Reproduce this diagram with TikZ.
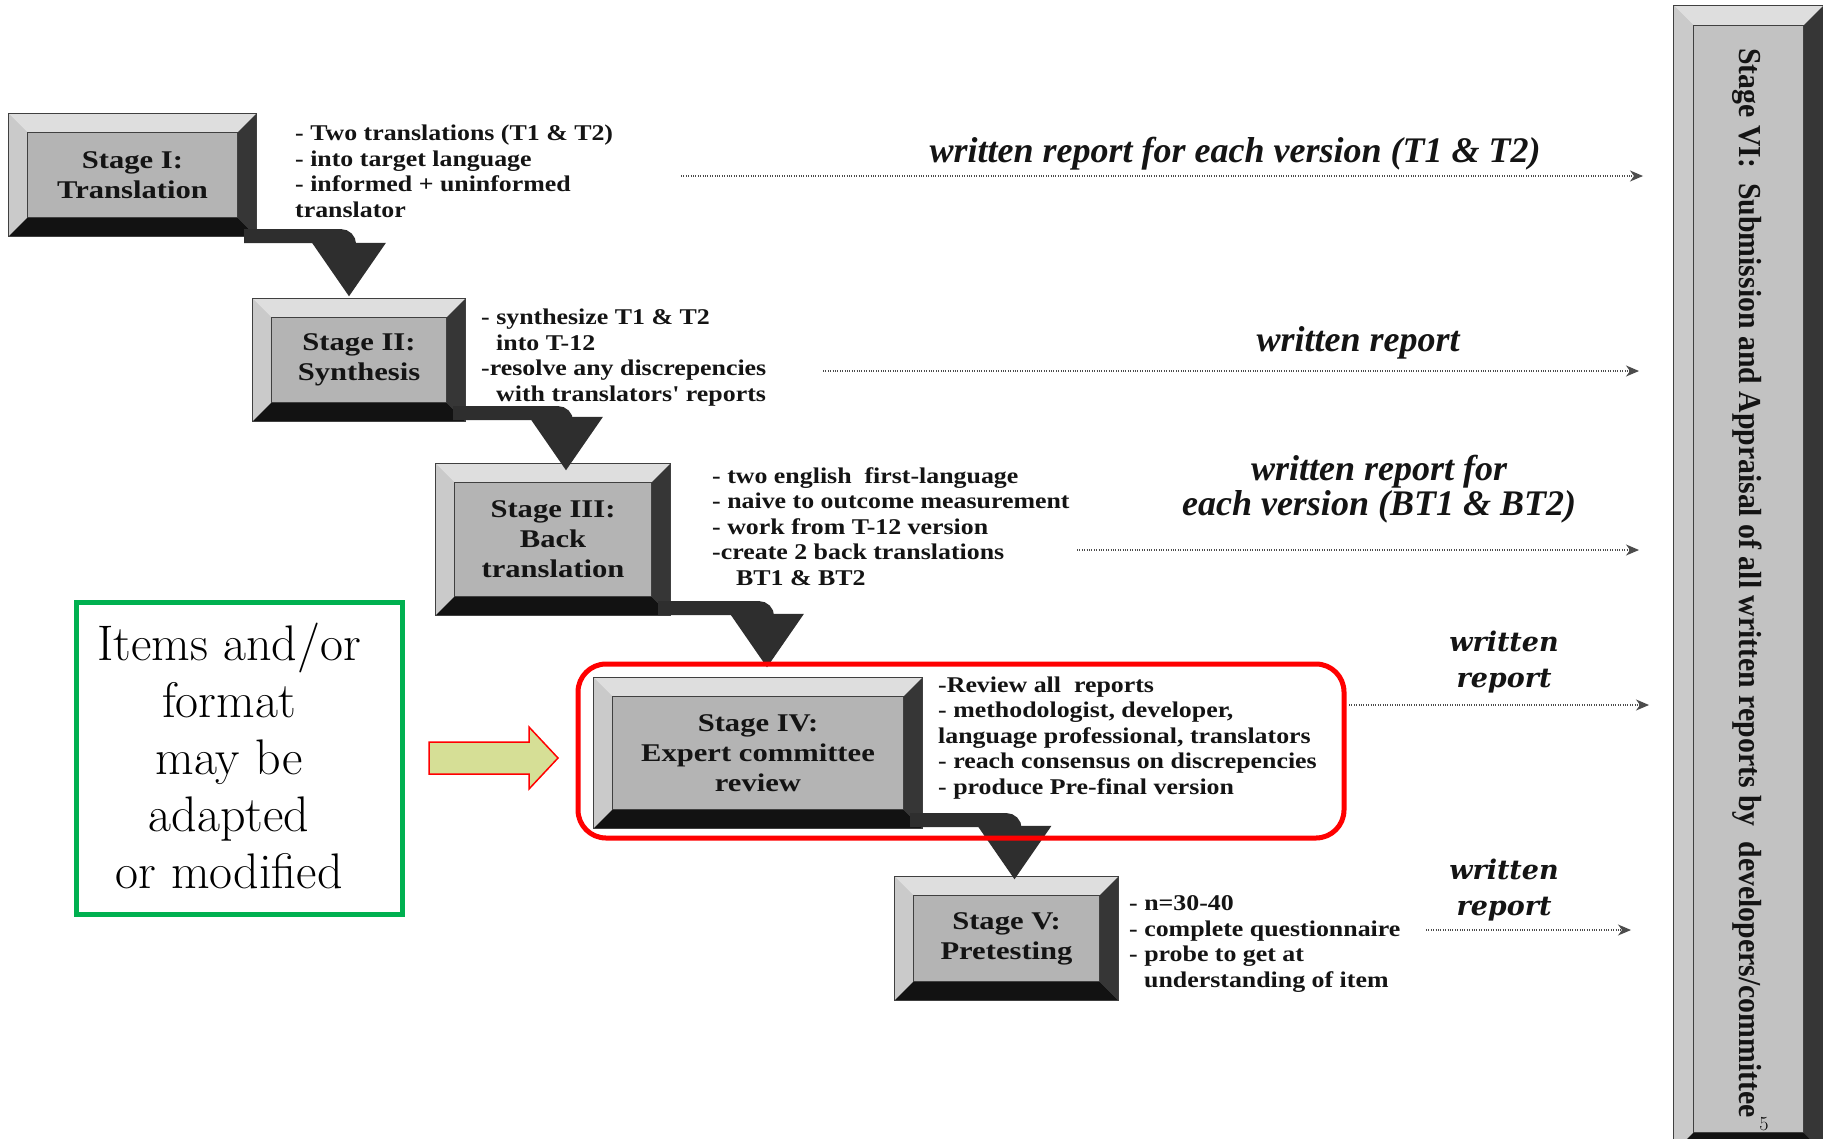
\documentclass[tikz,border=0pt]{standalone}
\usepackage{fontspec}
\usetikzlibrary{arrows.meta}
\newfontfamily\stgfont[FakeStretch=1.2]{Liberation Serif}
\newfontfamily\dscfont[FakeStretch=1.15]{Liberation Serif}
\newfontfamily\lblfont{Liberation Serif}
\newfontfamily\lblbfont{DejaVu Serif}
\newfontfamily\sixfont[FakeStretch=0.93]{Liberation Serif}
\definecolor{face}{HTML}{B4B4B4}
\definecolor{facesix}{HTML}{C2C2C2}
\definecolor{bvtopc}{HTML}{DEDEDE}
\definecolor{bvleftc}{HTML}{CACACA}
\definecolor{bvrightc}{HTML}{363636}
\definecolor{bvbotc}{HTML}{121212}
\definecolor{bandc}{HTML}{2E2E2E}
\definecolor{notegreen}{HTML}{00B050}
\definecolor{yfill}{HTML}{D6DF96}
\newcommand\bevelize[2][19]{%
 \fill[bvtopc] (#2.north west) -- (#2.north east) -- ([shift={(-#1,#1)}]#2.north east) -- ([shift={(#1,#1)}]#2.north west) -- cycle;
 \fill[bvleftc] (#2.north west) -- ([shift={(#1,#1)}]#2.north west) -- ([shift={(#1,-#1)}]#2.south west) -- (#2.south west) -- cycle;
 \fill[bvrightc] (#2.north east) -- ([shift={(-#1,#1)}]#2.north east) -- ([shift={(-#1,-#1)}]#2.south east) -- (#2.south east) -- cycle;
 \fill[bvbotc] (#2.south west) -- ([shift={(#1,-#1)}]#2.south west) -- ([shift={(-#1,-#1)}]#2.south east) -- (#2.south east) -- cycle;
 \draw[black!75, line width=0.8pt] ([shift={(#1,#1)}]#2.north west) rectangle ([shift={(-#1,-#1)}]#2.south east);
 \draw[black!75, line width=0.8pt] (#2.north west) rectangle (#2.south east);
}
\tikzset{
 stg/.style={inner sep=0pt, fill=face, align=center, text=black!92,
   font=\stgfont\bfseries\fontsize{25.5}{30}\selectfont},
 dsc/.style={anchor=west, inner sep=0pt, align=left, text=black!92,
   font=\dscfont\bfseries\fontsize{22.5}{25.5}\selectfont},
 lbl/.style={inner sep=0pt, align=center, text=black!92,
   font=\lblfont\bfseries\itshape\fontsize{36}{35}\selectfont},
 lblb/.style={inner sep=0pt, align=center, text=black!92,
   font=\lblbfont\bfseries\itshape\fontsize{27}{36}\selectfont},
 elbowconn/.style={draw=bandc, line width=14pt, rounded corners=8pt,
   -{Triangle[width=70pt,length=54pt]}},
 report/.style={draw=black!70, line width=1.3pt, dash pattern=on 1pt off 1.4pt,
   -{Stealth[length=13pt,width=11pt,inset=4pt]}},
}
\begin{document}
\begin{tikzpicture}[x=1pt,y=-1pt]
\clip (0,0) rectangle (1823,1138);
\fill[white] (0,0) rectangle (1823,1138);

% Stage boxes
\node[stg, minimum width=247pt, minimum height=122pt] (s1) at (132.5,175) {Stage I:\\Translation};
\bevelize{s1}
\node[stg, minimum width=212pt, minimum height=122pt] (s2) at (359,360) {Stage II:\\Synthesis};
\bevelize{s2}
\node[stg, minimum width=234pt, minimum height=151pt] (s3) at (553,539.5) {Stage III:\\Back\\translation};
\bevelize{s3}
\node[stg, minimum width=328pt, minimum height=150pt] (s4) at (758,753) {Stage IV:\\Expert committee\\review};
\bevelize{s4}
\node[stg, minimum width=223pt, minimum height=123pt] (s5) at (1006.5,938.5) {Stage V:\\Pretesting};
\bevelize{s5}

% Stage VI
\node[fill=facesix, inner sep=0pt, minimum width=149pt, minimum height=1146pt] (s6) at (1748.5,579) {};
\bevelize[20]{s6}
\node[rotate=-90, inner sep=0pt, text=black!92, font=\sixfont\bfseries\fontsize{32}{34}\selectfont] (s6t) at (1747,583)
 {Stage VI:\ \ Submission and Appraisal of all written reports by\ \ developers/committee};
\node[inner sep=0pt, font=\fontsize{20}{22}\selectfont] (pg) at (1764,1124) {5};

% descriptions
\node[dsc] (d1) at (295,174) {\strut- Two translations (T1 \& T2)\\- into target language\\- informed + uninformed\\translator\strut};
\node[dsc] (d2) at (481,358) {\strut- synthesize T1 \& T2\\\hspace*{15pt}into T-12\\-resolve any discrepencies\\\hspace*{15pt}with translators' reports\strut};
\node[dsc] (d3) at (712,529) {\strut- two english\ \ first-language\\- naive to outcome measurement\\- work from T-12 version\\-create 2 back translations\\\hspace*{24pt}BT1 \& BT2\strut};
\node[dsc] (d4) at (938,738) {\strut-Review all\ \ reports\\- methodologist, developer,\\language professional, translators\\- reach consensus on discrepencies\\- produce Pre-final version\strut};
\node[dsc] (d5) at (1129,944) {\strut- n=30-40\\- complete questionnaire\\- probe to get at\\\hspace*{15pt}understanding of item\strut};

% connectors between stages
\draw[elbowconn] ([shift={(-12,0)}]s1.south east) -| ([shift={(-10,-2)}]s2.north);
\draw[elbowconn] ([shift={(-12,-8)}]s2.south east) -| ([shift={(13,7)}]s3.north);
\draw[elbowconn] ([shift={(-12,-7)}]s3.south east) -| ([shift={(9,-10)}]s4.north);
\draw[elbowconn] ([shift={(-12,-8)}]s4.south east) -| ([shift={(8,3)}]s5.north);

% written reports
\coordinate (r1a) at (681,176); \coordinate (r1b) at (1643,176);
\coordinate (r2a) at (823,371); \coordinate (r2b) at (1639,371);
\coordinate (r3a) at (1077,550); \coordinate (r3b) at (1639,550);
\coordinate (r4a) at (1349,705); \coordinate (r4b) at (1649,705);
\coordinate (r5a) at (1426,930); \coordinate (r5b) at (1631,930);
\draw[report] (r1a) -- (r1b);
\draw[report] (r2a) -- (r2b);
\draw[report] (r3a) -- (r3b);
\draw[report] (r4a) -- (r4b);
\draw[report] (r5a) -- (r5b);
\node[lbl] (l1) at (1235,154) {written report for each version (T1 \& T2)};
\node[lbl] (l2) at (1358,343) {written report};
\node[lbl] (l3) at (1379,489) {written report for\\each version (BT1 \& BT2)};
\node[lblb] (l4) at (1504,662) {written\\report};
\node[lblb] (l5) at (1504,890) {written\\report};

% highlight frame
\node[draw=red, line width=5pt, rounded corners=28pt, inner sep=0pt,
  minimum width=766pt, minimum height=174pt] (hl) at (961,751) {};

% note box
\node[draw=notegreen, line width=5pt, inner sep=0pt, minimum width=326pt, minimum height=312pt] (note) at (239,758) {};
\node[align=center, inner sep=0pt, font=\fontsize{50}{57}\selectfont] (notet) at (229,756)
 {Items and/or\\format\\may be\\adapted\\or modified};

% block arrow
\coordinate (ya) at (429,758);
\draw[fill=yfill, draw=red, line width=1.5pt] (ya) ++(0,-16) -- (529,742) -- (529,727) -- (558,758) -- (529,789) -- (529,774) -- (429,774) -- cycle;
\end{tikzpicture}
\end{document}
